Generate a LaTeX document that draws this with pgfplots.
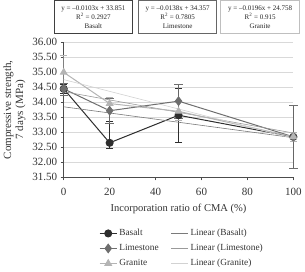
\documentclass[border=0pt]{standalone}
\usepackage{fontspec}
\setmainfont{Liberation Serif}
\usepackage{pgfplots}
\pgfplotsset{compat=1.18}
\definecolor{cbas}{HTML}{2E2E2E}
\definecolor{clim}{HTML}{6E6E6E}
\definecolor{cgra}{HTML}{B4B4B4}
\definecolor{tbas}{HTML}{7A7A7A}
\definecolor{tlim}{HTML}{9A9A9A}
\definecolor{tgra}{HTML}{D2D2D2}
\begin{document}
\begin{tikzpicture}
\begin{axis}[
  scale only axis,
  width=228bp, height=134bp,
  xmin=0, xmax=100, ymin=31.5, ymax=36,
  xtick={0,20,40,60,80,100},
  ytick={31.5,32,32.5,33,33.5,34,34.5,35,35.5,36},
  yticklabel style={/pgf/number format/.cd,fixed,fixed zerofill,precision=2},
  xticklabel style={yshift=-4bp},
  /pgf/number format/assume math mode=true,
  axis lines*=left,
  axis line style={draw=black!70, line width=0.6pt},
  tick style={draw=black!70, line width=0.6pt},
  tick align=outside,
  major tick length=3bp,
  ymajorgrids,
  grid style={draw=black!15, line width=0.5pt},
  tick label style={font=\fontsize{11}{12}\selectfont, text=black!80},
  xlabel={Incorporation ratio of CMA (\%)},
  ylabel={Compressive strength,\\7 days (MPa)},
  ylabel style={align=center, font=\fontsize{11}{12}\selectfont, text=black!80},
  xlabel style={font=\fontsize{10.5}{12}\selectfont, text=black!80, yshift=-2bp},
  clip=false,
  legend columns=2,
  legend cell align=left,
  legend style={draw=none, fill=none, at={(0.515,-0.355)}, anchor=north,
    font=\fontsize{9.3}{11}\selectfont, text=black!80,
    /tikz/every even column/.append style={column sep=10bp},
    row sep=3bp},
  error bars/y dir=both, error bars/y explicit,
]
\addplot[color=cbas, line width=1pt, mark=*, mark size=3.5pt,
  error bars/error bar style={draw=cbas, line width=0.7pt}]
  coordinates {(0,34.45) +- (0,0.15) (20,32.65) += (0,0.72) -= (0,0.17) (50,33.57) +- (0,0.9) (100,32.85) +- (0,0.15)};
\addlegendentry{Basalt}
\addplot[color=tbas, line width=0.6pt, error bars/y dir=none]
  coordinates {(0,33.851) (100,32.821)};
\addlegendentry{Linear (Basalt)}
\addplot[color=clim, line width=1pt, mark=diamond*, mark size=4.2pt,
  error bars/error bar style={draw=black!60, line width=0.7pt}]
  coordinates {(0,34.45) +- (0,0.2) (20,33.72) +- (0,0.42) (50,34.04) +- (0,0.57) (100,32.85) +- (0,1.05)};
\addlegendentry{Limestone}
\addplot[color=tlim, line width=0.6pt, error bars/y dir=none]
  coordinates {(0,34.357) (100,32.977)};
\addlegendentry{Linear (Limestone)}
\addplot[color=cgra, line width=1pt, mark=triangle*, mark size=3.7pt,
  error bars/error bar style={draw=black!50, line width=0.7pt}]
  coordinates {(0,35.0) +- (0,0.58) (20,33.96) +- (0,0.2) (50,33.7) +- (0,0.3) (100,32.85) +- (0,0.15)};
\addlegendentry{Granite}
\addplot[color=tgra, line width=0.6pt, error bars/y dir=none]
  coordinates {(0,34.758) (100,32.798)};
\addlegendentry{Linear (Granite)}
\node[draw=black!75, line width=1.1pt, fill=white, align=center, yshift=25bp,
  minimum width=77bp, minimum height=33bp, inner sep=1bp, font=\fontsize{7}{9}\selectfont, text=black!85]
  at (rel axis cs:0.129,1) {y = –0.0103x + 33.851\\R\textsuperscript{2} = 0.2927\\Basalt};
\node[draw=black!60, line width=0.9pt, fill=white, align=center, yshift=25bp,
  minimum width=78bp, minimum height=33bp, inner sep=1bp, font=\fontsize{7}{9}\selectfont, text=black!85]
  at (rel axis cs:0.496,1) {y = –0.0138x + 34.357\\R\textsuperscript{2} = 0.7805\\Limestone};
\node[draw=black!25, line width=0.8pt, fill=white, align=center, yshift=25bp,
  minimum width=78bp, minimum height=33bp, inner sep=1bp, font=\fontsize{7}{9}\selectfont, text=black!85]
  at (rel axis cs:0.855,1) {y = –0.0196x + 24.758\\R\textsuperscript{2} = 0.915\\Granite};
\end{axis}
\end{tikzpicture}
\end{document}
